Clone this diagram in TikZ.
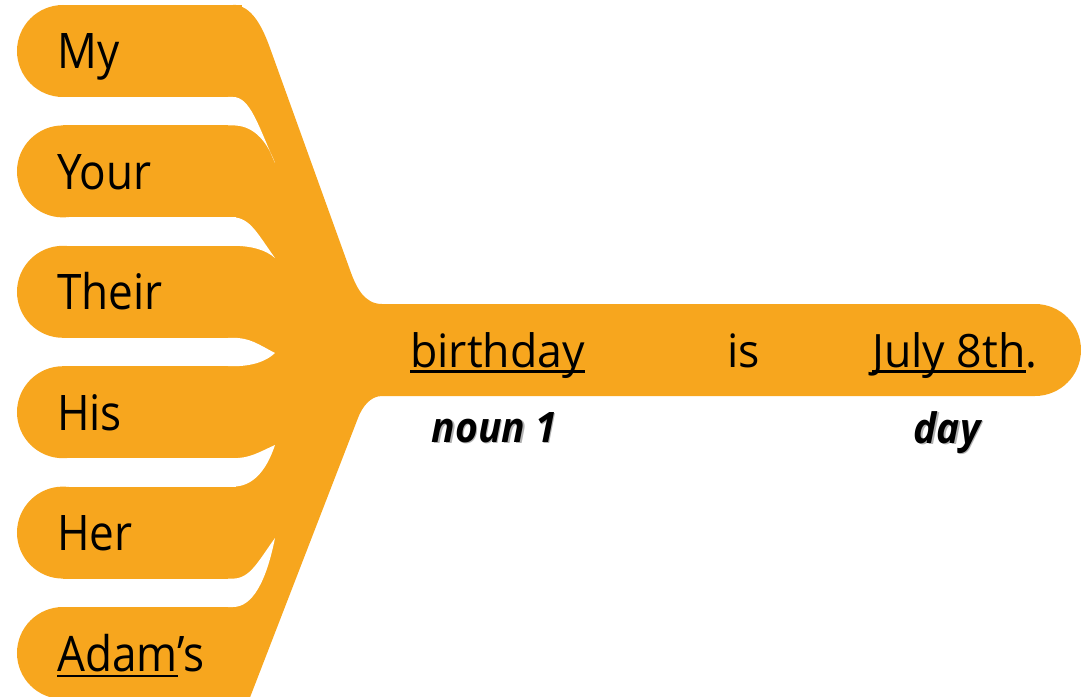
\documentclass[tikz,border=0pt]{standalone}
\usepackage{fontspec}
\newfontfamily\pillfont[FakeStretch=0.9]{Open Sans}
\newfontfamily\barfont[FakeStretch=0.97]{Open Sans}
\newfontfamily\labfont[FakeStretch=0.93]{Open Sans}
\definecolor{org}{HTML}{F7A61E}
\newcommand\ulw[1]{\leavevmode\setbox0\hbox{#1}\rlap{\rule[-0.13em]{\wd0}{0.055em}}\box0}
\begin{document}
\begin{tikzpicture}[x=1bp,y=-1bp,
  pilltext/.style={anchor=base west,inner sep=0pt,font=\pillfont\fontsize{49bp}{55bp}\selectfont},
  bartext/.style={anchor=base west,inner sep=0pt,font=\barfont\fontsize{46bp}{52bp}\selectfont},
  labtext/.style={anchor=base west,inner sep=0pt,font=\labfont\bfseries\itshape\fontsize{42bp}{48bp}\selectfont},
  labshadow/.style={labtext,text=black!30}]
\useasboundingbox (0,0) rectangle (1091,697);
\clip (0,0) rectangle (1091,697);
% pills
\foreach \t in {5,125.4,245.8,366.2,486.6,607}{
  \fill[org] (63,\t) rectangle (242,\t+92);
  \fill[org] (63,\t+46) circle[radius=46bp];
}
% trunk and bar
\fill[org] (236,700) -- (236,5) -- (233,5) .. controls (252,5) and (262.8,28) .. (270,48)
  -- (350,270) .. controls (356,287) and (364,304) .. (382,304)
  -- (1035,304) .. controls (1060.4,304) and (1081,324.6) .. (1081,350)
  .. controls (1081,375.4) and (1060.4,396) .. (1035,396)
  -- (382,396) .. controls (370,396) and (362,407.4) .. (358,418)
  -- (249,700) -- cycle;
% notches
\foreach \b/\t/\ty in {97/125.4/163, 217.4/245.8/258, 337.8/366.2/353, 458.2/486.6/445, 578.6/607/538}{
  \fill[white] (228,\b) -- (233,\b) .. controls (250,\b) and (258,{\b+0.42*(\ty-\b)}) .. (275,\ty)
    .. controls (266,{\t+0.35*(\ty-\t)}) and (252,\t) .. (233,\t) -- (228,\t) -- cycle;
}
% pill texts
\node[pilltext] (my) at (57,69) {My};
\node[pilltext] (your) at (57,189.4) {Your};
\node[pilltext] (their) at (57,309.8) {Their};
\node[pilltext] (his) at (57,430.2) {His};
\node[pilltext] (her) at (57,550.6) {Her};
\node[pilltext] (adams) at (57,671) {\ulw{Adam}’s};
% bar texts
\node[bartext] (birthday) at (410,367) {\ulw{birthday}};
\node[bartext] (is) at (727,367) {is};
\node[bartext] (july) at (872,367) {\ulw{July 8th}.};
% labels
\node[labshadow] (nounshadow) at (432.8,443) {noun 1};
\node[labtext] (noun) at (431.5,442) {noun 1};
\node[labshadow] (dayshadow) at (914.8,444) {day};
\node[labtext] (day) at (913.5,443) {day};
\end{tikzpicture}
\end{document}
